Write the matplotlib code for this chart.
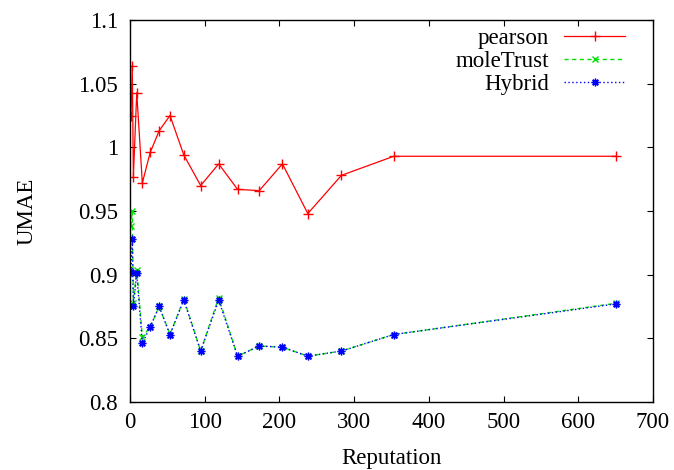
import matplotlib.pyplot as plt

# Reputation values (x) shared by all three series
reputation = [1.3, 3, 4.5, 9, 16.5, 27, 39, 53.5, 72, 94.6, 118.7, 144,
              173, 204, 238, 283, 353, 650]

pearson = [1.025, 1.064, 0.977, 1.043, 0.972, 0.996, 1.013, 1.025, 0.994,
           0.970, 0.987, 0.967, 0.966, 0.987, 0.948, 0.978, 0.993, 0.993]

mole_trust = [0.938, 0.950, 0.878, 0.904, 0.851, 0.859, 0.875, 0.853, 0.881,
              0.840, 0.882, 0.836, 0.844, 0.843, 0.836, 0.840, 0.853, 0.8775]

hybrid = [0.902, 0.928, 0.875, 0.901, 0.846, 0.859, 0.875, 0.853, 0.880,
          0.840, 0.880, 0.836, 0.844, 0.843, 0.836, 0.840, 0.853, 0.877]

x_ticks = [0, 100, 200, 300, 400, 500, 600, 700]
y_ticks = [0.8, 0.85, 0.9, 0.95, 1.0, 1.05, 1.1]
y_tick_labels = ["0.8", "0.85", "0.9", "0.95", "1", "1.05", "1.1"]

plt.rcParams["font.family"] = ["Liberation Serif", "DejaVu Serif"]
FONT_SIZE = 16.5

fig = plt.figure(figsize=(6.74, 4.70), dpi=100)
ax = fig.add_axes([0.1929, 0.1447, 0.7759, 0.8127])

asterisk = (8, 2, 0)

ax.plot(reputation, pearson, color="#ff0000", linewidth=0.9,
        marker="+", markersize=6.5, markeredgewidth=1.0, label="pearson")
ax.plot(reputation, mole_trust, color="#00e000", linewidth=1.0,
        linestyle=(0, (3, 2.5)), marker="x", markersize=5,
        markeredgewidth=1.0, label="moleTrust")
ax.plot(reputation, hybrid, color="#0000ff", linewidth=1.0,
        linestyle=(0, (1, 1.8)), marker=asterisk, markersize=5.5,
        markeredgewidth=1.0, label="Hybrid")

ax.set_xlim(0, 700)
ax.set_ylim(0.8, 1.1)
ax.set_xticks(x_ticks)
ax.set_yticks(y_ticks)
ax.set_yticklabels(y_tick_labels)

ax.tick_params(direction="in", length=4, width=0.8, labelsize=FONT_SIZE,
               top=True, right=True)
ax.tick_params(axis="x", pad=7)
ax.tick_params(axis="y", pad=8.5)
for spine in ax.spines.values():
    spine.set_linewidth(1.0)

ax.set_xlabel("Reputation", fontsize=FONT_SIZE, labelpad=11)
ax.set_ylabel("UMAE", fontsize=FONT_SIZE, labelpad=29)

# gnuplot-style key: text right-aligned, sample line on the right
ax.legend(loc="upper right", bbox_to_anchor=(1.0, 1.052), frameon=False,
          markerfirst=False, fontsize=FONT_SIZE, handlelength=2.7,
          handletextpad=0.65, labelspacing=0.1, borderaxespad=0.8)

fig.savefig("out.png", dpi=100)
